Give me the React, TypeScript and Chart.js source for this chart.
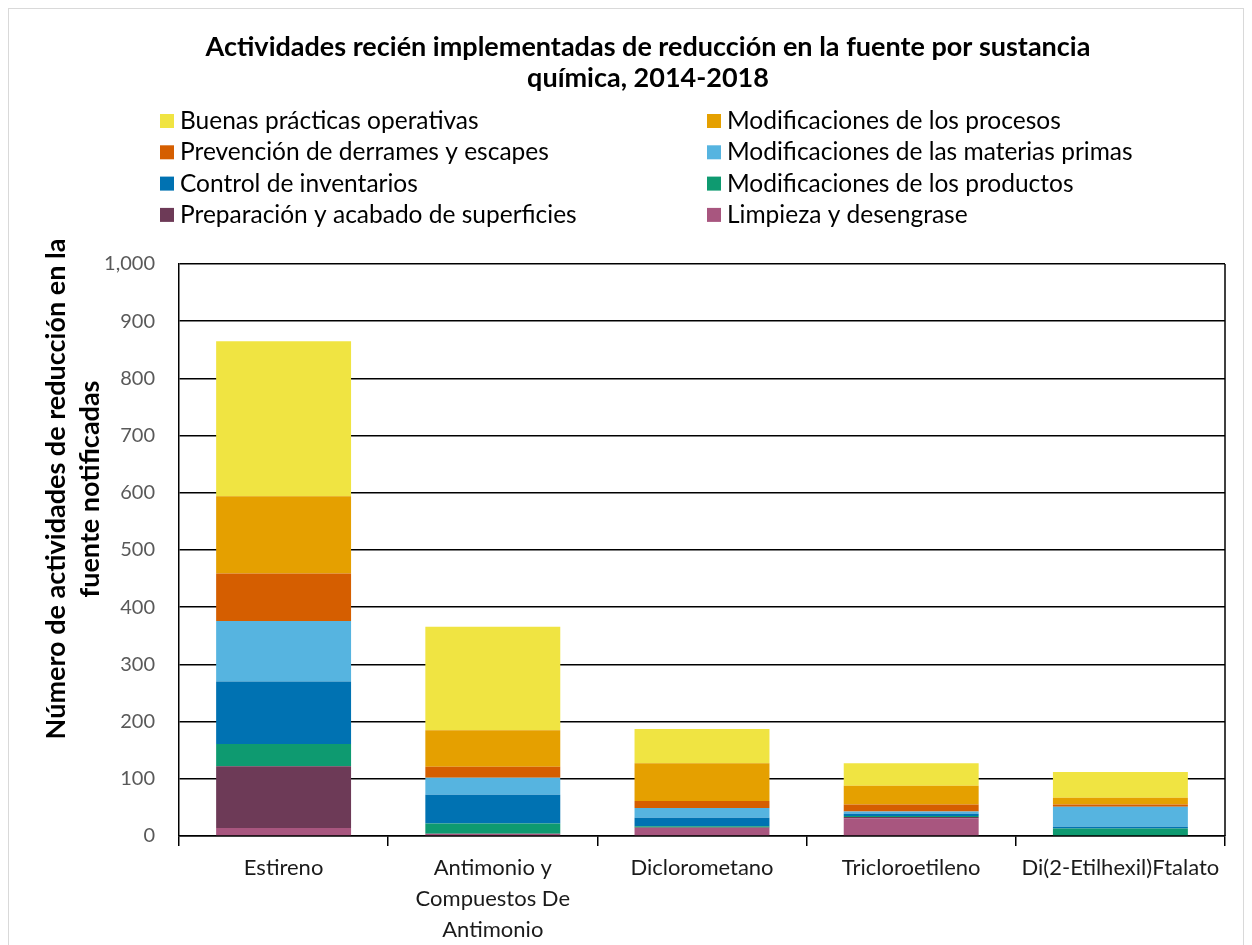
import React, { useEffect, useRef } from "react";
import { Chart, registerables } from "chart.js";

Chart.register(...registerables);

const categories: (string | string[])[] = [
  "Estireno",
  ["Antimonio y", "Compuestos De", "Antimonio"],
  "Diclorometano",
  "Tricloroetileno",
  "Di(2-Etilhexil)Ftalato",
];

// stacked from bottom to top
const limpieza = [14, 4, 14, 31, 0];
const preparacion = [108, 0, 1, 2, 0];
const modProductos = [39, 18, 2, 2, 13];
const controlInventarios = [109, 50, 15, 4, 3];
const modMaterias = [106, 30, 17, 4, 35];
const prevencion = [83, 19, 12, 12, 4];
const modProcesos = [135, 64, 66, 33, 12];
const buenasPracticas = [271, 181, 60, 39, 45];

const yTicks = [0, 100, 200, 300, 400, 500, 600, 700, 800, 900, 1000];

const titleLines = [
  "Actividades recién implementadas de reducción en la fuente por sustancia",
  "química, 2014-2018",
];
const yTitleLines = ["Número de actividades de reducción en la", "fuente notificadas"];

const series = [
  { label: "Limpieza y desengrase", data: limpieza, color: "#A8567F" },
  { label: "Preparación y acabado de superficies", data: preparacion, color: "#6D3A57" },
  { label: "Modificaciones de los productos", data: modProductos, color: "#0E9A70" },
  { label: "Control de inventarios", data: controlInventarios, color: "#0072B2" },
  { label: "Modificaciones de las materias primas", data: modMaterias, color: "#56B4E0" },
  { label: "Prevención de derrames y escapes", data: prevencion, color: "#D55E00" },
  { label: "Modificaciones de los procesos", data: modProcesos, color: "#E5A000" },
  { label: "Buenas prácticas operativas", data: buenasPracticas, color: "#F0E442" },
];

const legendOrder = [
  "Buenas prácticas operativas",
  "Modificaciones de los procesos",
  "Prevención de derrames y escapes",
  "Modificaciones de las materias primas",
  "Control de inventarios",
  "Modificaciones de los productos",
  "Preparación y acabado de superficies",
  "Limpieza y desengrase",
];

const FONT = "Lato, 'Open Sans', 'DejaVu Sans', sans-serif";

const decorPlugin = {
  id: "decor",
  beforeDatasetsDraw(chart: any) {
    const { ctx, chartArea } = chart;
    ctx.save();
    ctx.strokeStyle = "#000";
    ctx.lineWidth = 1.5;
    ctx.beginPath();
    ctx.moveTo(chartArea.right, chartArea.top);
    ctx.lineTo(chartArea.right, chartArea.bottom);
    ctx.stroke();
    ctx.restore();
  },
  afterDraw(chart: any) {
    const { ctx } = chart;
    ctx.save();
    // Title
    ctx.fillStyle = "#000";
    ctx.font = `bold 27px ${FONT}`;
    ctx.textAlign = "center";
    ctx.textBaseline = "middle";
    titleLines.forEach((t, i) => ctx.fillText(t, 639, 38 + i * 31));

    // Legend
    ctx.font = `24.5px ${FONT}`;
    ctx.textAlign = "left";
    legendOrder.forEach((name, i) => {
      const s = series.find((d) => d.label === name)!;
      const col = i % 2;
      const row = Math.floor(i / 2);
      const bx = col === 0 ? 151 : 698;
      const cy = 112 + row * 31.3;
      ctx.fillStyle = s.color;
      ctx.fillRect(bx, cy - 7, 14, 14);
      ctx.fillStyle = "#000";
      ctx.fillText(name, bx + 20, cy);
    });

    // Y title
    ctx.font = `bold 27px ${FONT}`;
    ctx.textAlign = "center";
    ctx.translate(0, 480);
    ctx.rotate(-Math.PI / 2);
    yTitleLines.forEach((t, i) => ctx.fillText(t, 0, 47 + i * 34));
    ctx.restore();
  },
};

export default function App() {
  const ref = useRef<HTMLCanvasElement | null>(null);
  useEffect(() => {
    if (!ref.current) return;
    const chart = new Chart(ref.current, {
      type: "bar",
      data: {
        labels: categories,
        datasets: series.map((s) => ({
          label: s.label,
          data: s.data,
          backgroundColor: s.color,
          borderWidth: 0,
          barPercentage: 0.645,
          categoryPercentage: 1,
        })),
      },
      options: {
        animation: false,
        responsive: false,
        layout: { padding: { top: 255, left: 0, right: 18, bottom: 0 } },
        plugins: {
          legend: { display: false },
          title: { display: false },
          tooltip: { enabled: false },
        },
        scales: {
          x: {
            stacked: true,
            afterFit: (scale: any) => {
              scale.height = 111;
            },
            grid: {
              drawOnChartArea: false,
              offset: true,
              tickLength: 10,
              color: "#000",
              lineWidth: 1.5,
            },
            border: { color: "#000", width: 1.5 },
            ticks: {
              color: "#1a1a1a",
              padding: 6,
              font: { family: FONT, size: 22, lineHeight: 1.41 },
              maxRotation: 0,
              autoSkip: false,
            },
          },
          y: {
            stacked: true,
            min: 0,
            max: 1000,
            afterFit: (scale: any) => {
              scale.width = 170;
            },
            afterBuildTicks: (scale: any) => {
              scale.ticks = yTicks.map((v) => ({ value: v }));
            },
            grid: {
              drawTicks: false,
              color: "#000",
              lineWidth: 1.5,
            },
            border: { color: "#000", width: 1.5 },
            ticks: {
              color: "#595959",
              padding: 24,
              font: { family: FONT, size: 20 },
              callback: (v: any) => Number(v).toLocaleString("en-US"),
            },
          },
        },
      },
      plugins: [decorPlugin],
    });
    return () => chart.destroy();
  }, []);

  return (
    <div
      style={{
        width: 1234,
        height: 938,
        border: "1px solid #d9d9d9",
        background: "#fff",
      }}
    >
      <canvas ref={ref} width={1234} height={938} style={{ display: "block" }} />
    </div>
  );
}
